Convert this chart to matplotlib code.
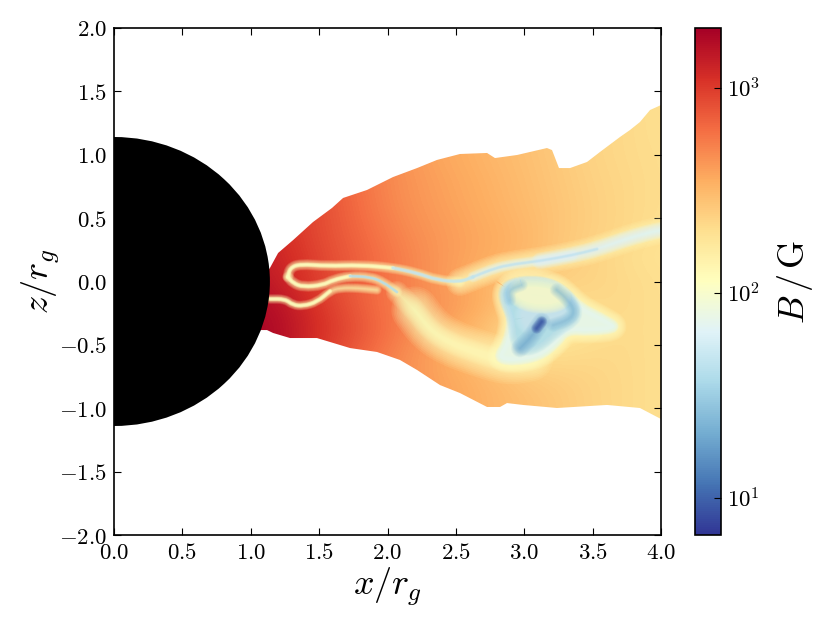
import numpy as np
import matplotlib
matplotlib.use("Agg")
import matplotlib.pyplot as plt
from matplotlib.colors import Normalize, LogNorm
from matplotlib.cm import ScalarMappable
from matplotlib.patches import Polygon, Ellipse, PathPatch
from matplotlib.path import Path

plt.rcParams['mathtext.fontset'] = 'cm'
plt.rcParams['font.family'] = 'DejaVu Serif'

# --- data (log10 B/G on a coarse grid) ---
grid_x = [1.0, 1.25, 1.5, 1.75, 2.0, 2.25, 2.5, 2.75, 3.0, 3.25, 3.5, 3.75, 4.0]
grid_z = [1.4, 1.2, 1.0, 0.8, 0.6, 0.4, 0.2, 0.0, -0.2, -0.4, -0.6, -0.8, -1.0, -1.2]
log_b = [
    [3.00, 2.95, 2.88, 2.78, 2.68, 2.60, 2.55, 2.50, 2.45, 2.40, 2.36, 2.33, 2.30],
    [3.00, 2.95, 2.88, 2.78, 2.68, 2.60, 2.55, 2.50, 2.45, 2.40, 2.36, 2.33, 2.30],
    [3.00, 2.95, 2.88, 2.78, 2.68, 2.60, 2.55, 2.50, 2.46, 2.41, 2.36, 2.33, 2.31],
    [3.05, 3.00, 2.90, 2.80, 2.69, 2.62, 2.57, 2.52, 2.47, 2.42, 2.37, 2.34, 2.31],
    [3.10, 3.02, 2.93, 2.81, 2.70, 2.63, 2.58, 2.53, 2.48, 2.43, 2.38, 2.34, 2.31],
    [3.10, 3.04, 2.93, 2.83, 2.73, 2.65, 2.60, 2.55, 2.50, 2.43, 2.38, 2.34, 2.30],
    [3.15, 3.08, 2.95, 2.86, 2.76, 2.67, 2.60, 2.55, 2.50, 2.42, 2.36, 2.31, 2.28],
    [3.20, 3.10, 2.97, 2.86, 2.76, 2.67, 2.58, 2.50, 2.42, 2.38, 2.36, 2.33, 2.30],
    [3.25, 3.17, 3.02, 2.88, 2.76, 2.68, 2.62, 2.52, 2.35, 2.30, 2.33, 2.33, 2.30],
    [3.28, 3.20, 3.05, 2.92, 2.78, 2.64, 2.54, 2.42, 2.30, 2.25, 2.30, 2.33, 2.30],
    [3.28, 3.17, 3.00, 2.85, 2.72, 2.62, 2.52, 2.42, 2.30, 2.32, 2.34, 2.33, 2.30],
    [3.25, 3.10, 2.92, 2.80, 2.69, 2.62, 2.56, 2.50, 2.44, 2.40, 2.36, 2.33, 2.30],
    [3.20, 3.05, 2.88, 2.78, 2.68, 2.62, 2.57, 2.50, 2.46, 2.41, 2.36, 2.33, 2.30],
    [3.20, 3.05, 2.88, 2.78, 2.68, 2.62, 2.57, 2.50, 2.46, 2.41, 2.36, 2.33, 2.30],
]

top_x = [1.0, 1.10, 1.14, 1.20, 1.31, 1.455, 1.594, 1.675, 1.85, 2.04, 2.216, 2.362, 2.53, 2.728,
         2.786, 2.947, 3.166, 3.203, 3.254, 3.335, 3.459, 3.554, 3.70, 3.773, 3.846, 3.92, 4.0]
top_z = [0.05, 0.05, 0.106, 0.225, 0.327, 0.469, 0.58, 0.659, 0.722, 0.824, 0.895, 0.959, 1.006, 1.014,
         0.974, 0.998, 1.053, 1.037, 0.895, 0.895, 0.943, 1.022, 1.14, 1.195, 1.258, 1.353, 1.392]
bot_x = [1.0, 1.119, 1.163, 1.287, 1.484, 1.726, 1.923, 2.091, 2.216, 2.384, 2.53, 2.728, 2.823,
         2.874, 2.991, 3.24, 3.605, 3.846, 4.0]
bot_z = [-0.383, -0.383, -0.406, -0.446, -0.446, -0.525, -0.556, -0.619, -0.698, -0.817, -0.88, -0.99, -0.99,
         -0.959, -0.974, -0.998, -0.974, -0.998, -1.085]

sheet1_x = [1.272, 1.287, 1.36, 1.558, 1.799, 2.04, 2.216, 2.362, 2.53, 2.625, 2.75, 2.874, 3.115, 3.357, 3.532, 3.722, 3.898, 4.007]
sheet1_z = [0.036, 0.107, 0.138, 0.122, 0.130, 0.107, 0.067, 0.012, -0.004, 0.036, 0.091, 0.13, 0.162, 0.209, 0.256, 0.327, 0.383, 0.406]
sheet2_x = [1.272, 1.309, 1.382, 1.528, 1.601, 1.726, 1.872, 1.967, 2.069]
sheet2_z = [0.036, -0.012, -0.043, -0.028, 0.012, 0.043, 0.036, -0.004, -0.083]
sheet3_x = [1.14, 1.25, 1.309, 1.382, 1.484, 1.58, 1.653, 1.777, 1.923]
sheet3_z = [-0.138, -0.138, -0.185, -0.193, -0.162, -0.075, -0.051, -0.051, -0.067]
band_x = [2.069, 2.201, 2.311, 2.457, 2.64, 2.874, 3.04]
band_z = [-0.083, -0.225, -0.383, -0.485, -0.556, -0.635, -0.604]

blob_x = [2.847, 2.872, 2.908, 2.872, 2.798, 2.92, 3.115, 3.237, 3.31, 3.481, 3.70, 3.554, 3.408, 3.31, 3.212, 3.042, 2.896]
blob_z = [-0.093, -0.199, -0.304, -0.488, -0.606, -0.633, -0.593, -0.488, -0.383, -0.396, -0.369, -0.278, -0.199, -0.093, -0.014, 0.012, -0.014]
body_x = [2.884, 2.859, 2.932, 2.957, 3.091, 3.237, 3.383, 3.335, 3.212, 3.042]
body_z = [-0.041, -0.12, -0.278, -0.527, -0.514, -0.369, -0.278, -0.146, -0.041, -0.009]
cap_x = [2.932, 2.969, 3.115, 3.25, 3.286, 3.212, 3.042]
cap_z = [-0.067, -0.146, -0.185, -0.167, -0.12, -0.062, -0.036]
mid_x = [2.993, 3.237, 3.286, 3.115, 3.018]
mid_z = [-0.211, -0.211, -0.264, -0.29, -0.357]
core_x = [2.969, 3.054, 3.091, 3.128]
core_z = [-0.527, -0.435, -0.369, -0.317]
arc_r_x = [3.212, 3.322, 3.371, 3.322, 3.237]
arc_r_z = [-0.343, -0.304, -0.238, -0.146, -0.067]
arc_l_x = [2.981, 2.884, 2.896]
arc_l_z = [-0.028, -0.067, -0.146]

horizon_radius = 1.14
ticks_x = [0.0, 0.5, 1.0, 1.5, 2.0, 2.5, 3.0, 3.5, 4.0]
ticks_z = [-2.0, -1.5, -1.0, -0.5, 0.0, 0.5, 1.0, 1.5, 2.0]
b_min, b_max = 6.6, 1950.0

# --- figure ---
W, H = 830, 623
fig = plt.figure(figsize=(W / 100, H / 100), dpi=100)
ax = fig.add_axes([114 / W, 1 - 535 / H, 547 / W, 507 / H])
cax = fig.add_axes([695 / W, 1 - 535 / H, 26 / W, 507 / H])

cmap = plt.get_cmap('RdYlBu_r')
lognorm = Normalize(np.log10(b_min), np.log10(b_max))

dx = grid_x[1] - grid_x[0]
dz = grid_z[0] - grid_z[1]
im = ax.imshow(np.array(log_b), cmap=cmap, norm=lognorm, interpolation='bicubic',
               extent=(grid_x[0] - dx / 2, grid_x[-1] + dx / 2, grid_z[-1] - dz / 2, grid_z[0] + dz / 2),
               aspect='auto', zorder=1)

outline = Polygon(np.column_stack([top_x + bot_x[::-1], top_z + bot_z[::-1]]), closed=True,
                  transform=ax.transData, facecolor='none', edgecolor='none')
ax.add_patch(outline)
im.set_clip_path(outline)


def curve_path(x, z, closed=False):
    """Quadratic Bezier path with the read points as control points."""
    p = np.column_stack([x, z])
    if closed:
        m0 = (p[-1] + p[0]) / 2
        verts, codes = [m0], [Path.MOVETO]
        for i in range(len(p)):
            verts += [p[i], (p[i] + p[(i + 1) % len(p)]) / 2]
            codes += [Path.CURVE3, Path.CURVE3]
        return Path(verts, codes)
    verts, codes = [p[0], (p[0] + p[1]) / 2], [Path.MOVETO, Path.LINETO]
    for i in range(1, len(p) - 1):
        verts += [p[i], (p[i] + p[i + 1]) / 2]
        codes += [Path.CURVE3, Path.CURVE3]
    verts.append(p[-1])
    codes.append(Path.LINETO)
    return Path(verts, codes)


def soft_line(x, z, val, width, z0=2.0, n=14, a=0.13):
    path = curve_path(x, z)
    c = cmap(lognorm(val))
    for k in range(n):
        lw = width * (1 - k / n) ** 1.4
        p = PathPatch(path, facecolor='none', edgecolor=c, lw=lw, alpha=a, zorder=z0,
                      capstyle='round', joinstyle='round')
        ax.add_patch(p)
        p.set_clip_path(outline)


def soft_poly(x, z, val, blur, z0=3.0, n=14, a=0.13):
    path = curve_path(x, z, closed=True)
    c = cmap(lognorm(val))
    for k in range(n):
        lw = blur * (1 - k / n)
        p = PathPatch(path, facecolor=c, edgecolor=c, lw=lw, alpha=a, zorder=z0, joinstyle='round')
        ax.add_patch(p)
        p.set_clip_path(outline)


# wide pale swath
soft_line(band_x, band_z, 2.1, 16, z0=2.0, n=14, a=0.1)
soft_line(band_x[1:], band_z[1:], 2.08, 34, z0=2.0, n=18, a=0.1)

# current sheets: halo then core
soft_line(sheet3_x, sheet3_z, 2.15, 7, z0=2.1, a=0.12)
soft_line(sheet3_x[:6], sheet3_z[:6], 2.05, 3.2, z0=2.2, n=8, a=0.3)
soft_line(sheet2_x, sheet2_z, 2.12, 8, z0=2.1, a=0.12)
soft_line(sheet2_x[:6], sheet2_z[:6], 2.05, 3.2, z0=2.2, n=8, a=0.3)
soft_line(sheet2_x[5:], sheet2_z[5:], 1.62, 2.4, z0=2.3, n=8, a=0.3)
soft_line(sheet1_x[:9], sheet1_z[:9], 2.12, 8, z0=2.1, a=0.12)
soft_line(sheet1_x[:6], sheet1_z[:6], 2.05, 3.2, z0=2.2, n=8, a=0.3)
soft_line(sheet1_x[5:10], sheet1_z[5:10], 1.68, 3.0, z0=2.3, n=8, a=0.3)
soft_line(sheet1_x[8:], sheet1_z[8:], 2.1, 20, z0=2.1, n=14, a=0.13)
soft_line(sheet1_x[9:14], sheet1_z[9:14], 1.84, 8, z0=2.2, n=12, a=0.16)
soft_line(sheet1_x[12:], sheet1_z[12:], 1.82, 12, z0=2.2, n=12, a=0.18)
soft_line(sheet1_x[9:15], sheet1_z[9:15], 1.66, 2.6, z0=2.3, n=8, a=0.2)

# low-field bubble
soft_poly(blob_x, blob_z, 2.05, 18, z0=3.0, n=12, a=0.14)
soft_poly(blob_x, blob_z, 1.85, 7, z0=3.1, n=10, a=0.18)
soft_poly(body_x, body_z, 1.6, 12, z0=3.2, n=14, a=0.12)
soft_poly(mid_x, mid_z, 1.72, 16, z0=3.3, n=14, a=0.1)
soft_poly(cap_x, cap_z, 2.0, 14, z0=3.4, n=14, a=0.14)
soft_line(arc_r_x, arc_r_z, 1.38, 10, z0=3.5, n=14, a=0.08)
soft_line(arc_l_x, arc_l_z, 1.45, 9, z0=3.5, n=14, a=0.08)
soft_line(core_x, core_z, 1.3, 13, z0=3.6, n=14, a=0.09)
soft_line(core_x[2:], core_z[2:], 0.95, 8, z0=3.7, n=14, a=0.14)

ax.add_patch(Ellipse((0, 0), 2 * horizon_radius, 2 * horizon_radius, facecolor='k', edgecolor='none', zorder=5))

ax.set_xlim(0, 4)
ax.set_ylim(-2, 2)
ax.set_xticks(ticks_x)
ax.set_yticks(ticks_z)
ax.set_xticklabels([f'${t:.1f}$' for t in ticks_x], fontsize=16.5)
ax.set_yticklabels([f'${t:.1f}$' for t in ticks_z], fontsize=16.5)
ax.tick_params(direction='in', top=True, right=True, length=5, width=0.8, zorder=6)
ax.tick_params(axis='x', pad=5)
ax.tick_params(axis='y', pad=5)
ax.set_xlabel(r'$x/r_g$', fontsize=26, labelpad=1)
ax.set_ylabel(r'$z/r_g$', fontsize=26, labelpad=-2)
for s in ax.spines.values():
    s.set_linewidth(1.2)
    s.set_zorder(7)

cb = fig.colorbar(ScalarMappable(norm=LogNorm(b_min, b_max), cmap=cmap), cax=cax)
cb.set_ticks([10, 100, 1000])
cb.set_ticklabels(['$10^{1}$', '$10^{2}$', '$10^{3}$'], fontsize=16.5)
cb.ax.minorticks_off()
cb.ax.tick_params(direction='in', length=5, width=0.8, pad=4)
cb.outline.set_linewidth(1.2)
cb.set_label(r'$B\,/\,\mathrm{G}$', fontsize=26, labelpad=11)

fig.savefig('out.png', dpi=100)
